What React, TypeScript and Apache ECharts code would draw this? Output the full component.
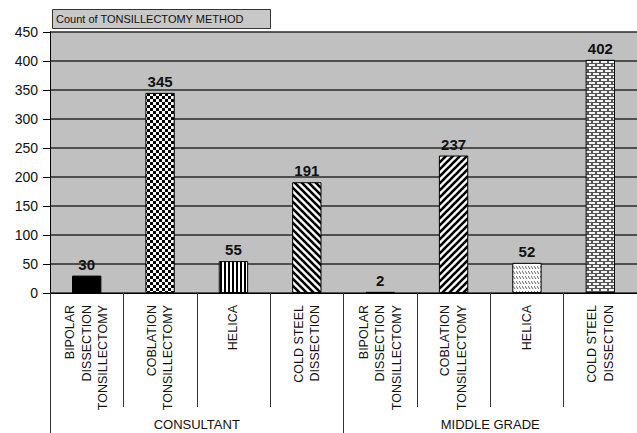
import React, { useEffect, useRef } from "react";
import * as echarts from "echarts";

const categories = [
  "BIPOLAR\nDISSECTION\nTONSILLECTOMY",
  "COBLATION\nTONSILLECTOMY",
  "HELICA",
  "COLD STEEL\nDISSECTION",
  "BIPOLAR\nDISSECTION\nTONSILLECTOMY",
  "COBLATION\nTONSILLECTOMY",
  "HELICA",
  "COLD STEEL\nDISSECTION",
];
const groups = ["CONSULTANT", "MIDDLE GRADE"];
const counts = [30, 345, 55, 191, 2, 237, 52, 402];
const yTicks = { min: 0, max: 450, interval: 50 };
const titleText = "Count of TONSILLECTOMY METHOD";

const FONT = "'Liberation Sans', Arial, sans-serif";

function mk(w: number, h: number, draw: (c: CanvasRenderingContext2D) => void) {
  const cv = document.createElement("canvas");
  cv.width = w;
  cv.height = h;
  const c = cv.getContext("2d")!;
  draw(c);
  return { image: cv, repeat: "repeat" } as any;
}

function makePatterns() {
  const solid = "#000";
  const checker = mk(6, 6, (c) => {
    c.fillStyle = "#fff";
    c.fillRect(0, 0, 6, 6);
    c.fillStyle = "#000";
    c.fillRect(0, 0, 3, 3);
    c.fillRect(3, 3, 3, 3);
  });
  const vstripe = mk(4, 4, (c) => {
    c.fillStyle = "#fff";
    c.fillRect(0, 0, 4, 4);
    c.fillStyle = "#000";
    c.fillRect(0, 0, 2, 4);
  });
  const diagDown = mk(7, 7, (c) => {
    c.fillStyle = "#fff";
    c.fillRect(0, 0, 7, 7);
    c.strokeStyle = "#000";
    c.lineWidth = 2.6;
    for (const o of [-7, 0, 7]) {
      c.beginPath();
      c.moveTo(o - 1, -1);
      c.lineTo(o + 8, 8);
      c.stroke();
    }
  });
  const diagUp = mk(7, 7, (c) => {
    c.fillStyle = "#fff";
    c.fillRect(0, 0, 7, 7);
    c.strokeStyle = "#000";
    c.lineWidth = 2.6;
    for (const o of [-7, 0, 7]) {
      c.beginPath();
      c.moveTo(o - 1, 8);
      c.lineTo(o + 8, -1);
      c.stroke();
    }
  });
  const wave = mk(3, 5, (c) => {
    c.fillStyle = "#fff";
    c.fillRect(0, 0, 3, 5);
    c.strokeStyle = "#666";
    c.lineWidth = 1;
    c.beginPath();
    c.moveTo(0, 1);
    c.lineTo(2, 4);
    c.stroke();
  });
  const brick = mk(8, 6, (c) => {
    c.fillStyle = "#555";
    c.fillRect(0, 0, 8, 6);
    c.fillStyle = "#f4f4f4";
    c.fillRect(1, 1, 6, 2);
    c.fillRect(-3, 4, 6, 2);
    c.fillRect(5, 4, 6, 2);
  });
  return [solid, checker, vstripe, diagDown, solid, diagUp, wave, brick];
}

export default function App() {
  const ref = useRef<HTMLDivElement>(null);
  useEffect(() => {
    const chart = echarts.init(ref.current!, undefined, { renderer: "svg" });
    const pats = makePatterns();
    chart.setOption({
      animation: false,
      backgroundColor: "#fff",
      grid: {
        left: 50,
        right: 0,
        top: 32,
        bottom: 140,
        show: true,
        backgroundColor: "#c0c0c0",
        borderWidth: 0,
      },
      graphic: [
        {
          type: "rect",
          left: 52,
          top: 9,
          shape: { width: 218, height: 19 },
          style: { fill: "#c8c8c8", stroke: "#333", lineWidth: 1 },
        },
        {
          type: "text",
          left: 56,
          top: 13,
          style: { text: titleText, font: `11px ${FONT}`, fill: "#111" },
        },
      ],
      xAxis: [
        {
          type: "category",
          data: categories,
          position: "bottom",
          axisLine: { show: true, lineStyle: { color: "#000", width: 1 } },
          axisTick: {
            show: true,
            interval: 0,
            length: 114,
            lineStyle: { color: "#333", width: 1 },
          },
          axisLabel: {
            interval: 0,
            rotate: 90,
            margin: 12,
            fontFamily: FONT,
            fontSize: 12.5,
            lineHeight: 16.5,
            color: "#111",
          },
        },
        {
          type: "category",
          data: groups,
          position: "bottom",
          axisLine: { show: false },
          axisTick: {
            show: true,
            interval: 0,
            length: 140,
            lineStyle: { color: "#333", width: 1 },
          },
          axisLabel: {
            interval: 0,
            margin: 125,
            fontFamily: FONT,
            fontSize: 13,
            color: "#111",
          },
        },
      ],
      yAxis: {
        type: "value",
        min: yTicks.min,
        max: yTicks.max,
        interval: yTicks.interval,
        axisLine: { show: true, lineStyle: { color: "#000", width: 1 } },
        axisTick: { show: true, length: 7, lineStyle: { color: "#000" } },
        axisLabel: {
          margin: 12,
          fontFamily: FONT,
          fontSize: 14,
          color: "#111",
        },
        splitLine: { show: true, lineStyle: { color: "#2a2a2a", width: 1.5 } },
      },
      series: [
        {
          type: "bar",
          xAxisIndex: 0,
          barWidth: "40%",
          data: counts.map((v, i) => ({
            value: v,
            itemStyle: { color: pats[i], borderColor: "#000", borderWidth: 1 },
          })),
          label: {
            show: true,
            position: "top",
            distance: 4,
            fontFamily: FONT,
            fontWeight: "bold",
            fontSize: 15,
            color: "#111",
          },
        },
      ],
    });
    return () => chart.dispose();
  }, []);
  return (
    <div
      ref={ref}
      style={{ position: "fixed", left: 0, top: 0, width: 637, height: 433 }}
    />
  );
}
